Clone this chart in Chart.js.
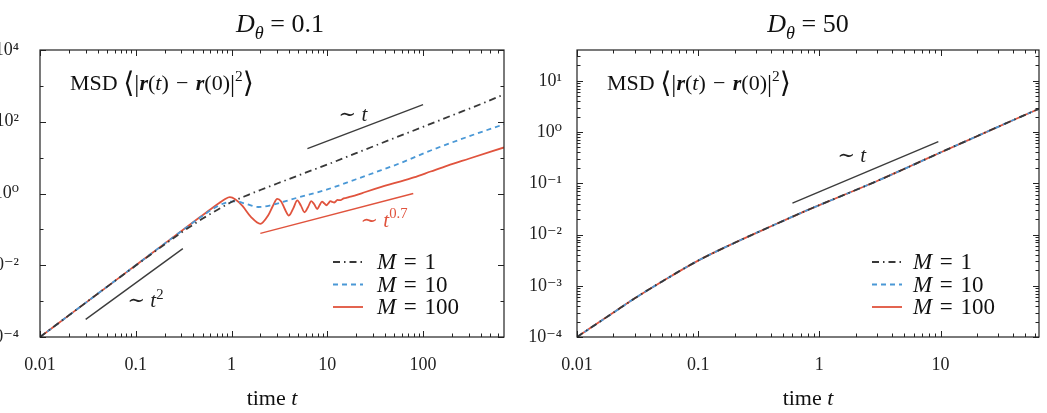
<!DOCTYPE html>
<html>
<head>
<meta charset="utf-8">
<script src="https://cdn.jsdelivr.net/npm/chart.js@4.4.1/dist/chart.umd.min.js"></script>
<style>
  body { margin: 0; background: #fff; width: 1047px; height: 413px; overflow: hidden; position: relative; }
  #left { position: absolute; left: -40px; top: 0; }
  #right { position: absolute; left: 520px; top: 0; }
</style>
</head>
<body>
<canvas id="left" width="560" height="413"></canvas>
<canvas id="right" width="527" height="413"></canvas>
<script>
// ---- data ----
// left panel, D_theta = 0.1
const leftM1T = [0.01, 0.02, 0.05, 0.1, 0.2, 0.3, 0.5, 0.7, 1, 1.5, 2, 3, 5, 7, 10, 20, 50, 100, 200, 400, 700]
const leftM1Y = [1e-4, 4e-4, 2.5e-3, 0.0098, 0.038, 0.082, 0.2, 0.34, 0.58, 0.92, 1.25, 1.9, 3.2, 4.5, 6.4, 13.3, 35, 72, 150, 310, 580]

const leftM10T = [0.01, 0.02, 0.05, 0.1, 0.2, 0.5, 0.7, 0.9, 1.1, 1.4, 1.9, 2.5, 3.2, 5, 10, 20, 36, 60, 120, 300, 700]
const leftM10Y = [1e-4, 4e-4, 2.5e-3, 0.01, 0.04, 0.24, 0.43, 0.57, 0.6, 0.52, 0.42, 0.46, 0.55, 0.78, 1.3, 2.5, 4.4, 7.3, 15.8, 39, 85]

const leftM100T = [0.01, 0.02, 0.05, 0.1, 0.2, 0.4, 0.6, 0.75, 0.85, 0.96, 1.1, 1.3, 1.6, 2.0, 2.4,
  2.7, 3.0, 3.3, 3.6, 3.97, 4.4, 4.86, 5.3, 5.79, 6.3, 6.8, 7.3, 7.85, 8.3, 8.8, 9.3, 9.8, 10.3, 10.8, 11.3,
  11.8, 12.3, 12.8, 13.3, 13.8, 14.3, 14.8, 15.8, 17, 20, 25, 36, 50, 80, 120, 180, 300, 700]
const leftM100Y = [1e-4, 4e-4, 2.5e-3, 0.01, 0.04, 0.16, 0.36, 0.55, 0.69, 0.79, 0.68, 0.45, 0.22, 0.143, 0.24,
  0.45, 0.71, 0.6, 0.37, 0.244, 0.38, 0.64, 0.46, 0.30, 0.42, 0.61, 0.5, 0.37, 0.47, 0.59, 0.53, 0.47, 0.54, 0.61, 0.58,
  0.56, 0.61, 0.66, 0.655, 0.65, 0.69, 0.73, 0.75, 0.8, 0.9, 1.1, 1.5, 1.94, 2.8, 4.1, 6.0, 9.3, 19.2]

// guide lines (scaling laws)
const leftLinT = [6.2, 100],  leftLinY = [17.9, 300]      // ~ t
const leftSubT = [2.0, 79],   leftSubY = [0.077, 1.0]     // ~ t^0.7
const leftBalT = [0.03, 0.31], leftBalY = [3.1e-4, 0.029] // ~ t^2

// right panel, D_theta = 50 (all three M curves lie on top of each other)
const rightT = [0.01, 0.02, 0.03, 0.05, 0.1, 0.2, 0.4, 0.7, 1, 2, 3, 5, 10, 20, 40, 65]
const rightM1Y = [1.0e-4, 3.0e-4, 5.7e-4, 1.2e-3, 3.1e-3, 6.9e-3, 0.0145, 0.0262, 0.0375, 0.074, 0.111, 0.19, 0.4, 0.83, 1.72, 2.85]
const rightM10Y = [1.0e-4, 3.0e-4, 5.7e-4, 1.2e-3, 3.1e-3, 6.9e-3, 0.0145, 0.0262, 0.0375, 0.074, 0.111, 0.19, 0.4, 0.83, 1.72, 2.85]
const rightM100Y = [1.0e-4, 3.0e-4, 5.7e-4, 1.2e-3, 3.1e-3, 6.9e-3, 0.0145, 0.0262, 0.0375, 0.074, 0.111, 0.19, 0.4, 0.83, 1.72, 2.85]
const rightLinT = [0.6, 9.6], rightLinY = [0.041, 0.65]   // ~ t

// ticks
const leftXTicks = [0.01, 0.1, 1, 10, 100]
const leftXTickLabels = ['0.01', '0.1', '1', '10', '100']
const leftYTicks = [1e-4, 1e-2, 1, 1e2, 1e4]
const leftYTickLabels = ['10⁻⁴', '10⁻²', '10⁰', '10²', '10⁴']
const rightXTicks = [0.01, 0.1, 1, 10]
const rightXTickLabels = ['0.01', '0.1', '1', '10']
const rightYTicks = [1e-4, 1e-3, 1e-2, 1e-1, 1, 10]
const rightYTickLabels = ['10⁻⁴', '10⁻³', '10⁻²', '10⁻¹', '10⁰', '10¹']

const seriesLabels = ['M = 1', 'M = 10', 'M = 100']

// ---- styling ----
const serif = '"Liberation Serif", "DejaVu Serif", serif'
Chart.defaults.font.family = serif
Chart.defaults.font.size = 18
Chart.defaults.color = '#222'

const BLACK = '#383838', BLUE = '#4a98d6', RED = '#e0533d', GUIDE = '#3c3c3c'
const SP = '\u2004'  // slightly wider space, math-like spacing round "="

const pts = (xs, ys) => xs.map((x, i) => ({x: x, y: ys[i]}))

function series(label, xs, ys, color, dash){
    return {label: label, data: pts(xs, ys), borderColor: color, borderWidth: 1.8, borderDash: dash,
        pointRadius: 0, fill: false, cubicInterpolationMode: 'monotone', isSeries: true}
}
function guide(xs, ys, color){
    return {data: pts(xs, ys), borderColor: color, borderWidth: 1.4, pointRadius: 0, fill: false}
}

// minor tick values: m * 10^k inside [min, max]
function minorTicks(min, max){
    const out = []
    for (let k = Math.floor(Math.log10(min)); k <= Math.ceil(Math.log10(max)); k++)
        for (let m = 2; m <= 9; m++){
            const v = m * Math.pow(10, k)
            if (v > min && v < max) out.push(v)
        }
    return out
}

// small rich-text helper (italics, sub/superscripts)
function rich(ctx, x, y, parts, size, align, color){
    const fontOf = p => {
        const s = size * (p.s || 1) * (p.sup || p.sub ? 0.7 : 1)
        return (p.st ? p.st + ' ' : '') + s + 'px ' + serif
    }
    const ws = []
    let w = 0
    parts.forEach(p => { ctx.font = fontOf(p); const m = ctx.measureText(p.t).width; ws.push(m); w += m })
    let cx = align === 'center' ? x - w / 2 : x
    ctx.fillStyle = color || '#111'
    ctx.textAlign = 'left'
    ctx.textBaseline = 'alphabetic'
    parts.forEach((p, i) => {
        ctx.font = fontOf(p)
        const dy = p.sup ? -size * 0.42 : p.sub ? size * 0.25 : (p.dy || 0)
        ctx.fillText(p.t, cx, y + dy)
        cx += ws[i]
    })
}
const I = t => ({t: t, st: 'italic'})
const N = t => ({t: t})

function msdParts(){
    return [N('MSD '), {t: '⟨', s: 1.3, dy: 2}, {t: '|', s: 1.15, dy: 2}, {t: 'r', st: 'bold italic'}, N('('), I('t'),
        N(')' + SP + '−' + SP), {t: 'r', st: 'bold italic'}, N('(0)'), {t: '|', s: 1.15, dy: 2}, {t: '2', sup: true}, {t: '⟩', s: 1.3, dy: 2}]
}

function decorPlugin(cfg){
    return {
        id: 'decor',
        afterDatasetsDraw(chart){
            const ctx = chart.ctx, ca = chart.chartArea
            const xs = chart.scales.x, ys = chart.scales.y
            ctx.save()
            // frame
            ctx.strokeStyle = '#222'
            ctx.lineWidth = 1.2
            ctx.setLineDash([])
            ctx.strokeRect(ca.left, ca.top, ca.right - ca.left, ca.bottom - ca.top)
            // inward ticks on all four sides
            ctx.lineWidth = 1
            const tick = (vals, len, horiz) => {
                vals.forEach(v => {
                    ctx.beginPath()
                    if (horiz){
                        const p = Math.round(xs.getPixelForValue(v)) + 0.5
                        ctx.moveTo(p, ca.bottom); ctx.lineTo(p, ca.bottom - len)
                        ctx.moveTo(p, ca.top); ctx.lineTo(p, ca.top + len)
                    } else {
                        const p = Math.round(ys.getPixelForValue(v)) + 0.5
                        ctx.moveTo(ca.left, p); ctx.lineTo(ca.left + len, p)
                        ctx.moveTo(ca.right, p); ctx.lineTo(ca.right - len, p)
                    }
                    ctx.stroke()
                })
            }
            tick(cfg.xMajor, 6, true)
            tick(cfg.xMinor, 3.5, true)
            tick(cfg.yMajor, 6, false)
            tick(cfg.yMinor, 3.5, false)

            // panel title and axis label
            const cx = (ca.left + ca.right) / 2
            rich(ctx, cx + cfg.titleDx, ca.top - 18, [I('D'), {t: 'θ', st: 'italic', sub: true}, N(' = ' + cfg.dTheta)], 26, 'center', '#111')
            rich(ctx, cx, ca.bottom + 68, [N('time '), I('t')], 22, 'center', '#111')

            // MSD label
            rich(ctx, ca.left + 30, ca.top + 40, msdParts(), 22, 'left', '#111')

            // guide-line labels, placed in data coordinates
            cfg.notes.forEach(n => {
                rich(ctx, xs.getPixelForValue(n.x), ys.getPixelForValue(n.y), n.parts, 21, 'left', n.color)
            })

            // legend
            let row = 0
            chart.data.datasets.forEach(ds => {
                if (!ds.isSeries) return
                const y = ca.top + cfg.legY + row * 22.5
                const x0 = ca.right + cfg.legX
                ctx.strokeStyle = ds.borderColor
                ctx.lineWidth = ds.borderWidth
                ctx.setLineDash(ds.borderDash || [])
                ctx.beginPath(); ctx.moveTo(x0, y); ctx.lineTo(x0 + 30, y); ctx.stroke()
                ctx.setLineDash([])
                const txt = ds.label.split(' ')
                rich(ctx, x0 + cfg.legGap, y + 7, [I(txt[0]), N(SP + '=' + SP + txt[2])], 23, 'left', '#111')
                row++
            })
            ctx.restore()
        }
    }
}

function makeChart(id, cfg){
    return new Chart(document.getElementById(id), {
        type: 'line',
        data: {datasets: cfg.datasets},
        options: {
            responsive: false,
            animation: false,
            layout: {padding: {top: 50, right: cfg.padRight, left: 0, bottom: 0}},
            plugins: {legend: {display: false}, tooltip: {enabled: false}, title: {display: false}},
            scales: {
                x: {
                    type: 'logarithmic', min: cfg.xMin, max: cfg.xMax,
                    afterBuildTicks: s => { s.ticks = cfg.xMajor.map(v => ({value: v})) },
                    afterFit: s => { s.height = 76 },
                    ticks: {callback: (v, i) => cfg.xLabels[i], padding: 17, maxRotation: 0, autoSkip: false, color: '#222'},
                    grid: {display: false, drawTicks: false},
                    border: {display: false}
                },
                y: {
                    type: 'logarithmic', min: cfg.yMin, max: cfg.yMax,
                    afterBuildTicks: s => { s.ticks = cfg.yLabelTicks.map(v => ({value: v})) },
                    afterFit: s => { s.width = cfg.yWidth },
                    ticks: {callback: (v, i) => cfg.yLabels[i], padding: cfg.yPad, autoSkip: false, color: '#222'},
                    grid: {display: false, drawTicks: false},
                    border: {display: false}
                }
            }
        },
        plugins: [decorPlugin(cfg)]
    })
}

// left: D_theta = 0.1
makeChart('left', {
    datasets: [
        series(seriesLabels[0], leftM1T, leftM1Y, BLACK, [7, 4, 1.5, 4]),
        series(seriesLabels[1], leftM10T, leftM10Y, BLUE, [5, 4]),
        series(seriesLabels[2], leftM100T, leftM100Y, RED, []),
        guide(leftLinT, leftLinY, GUIDE),
        guide(leftSubT, leftSubY, RED),
        guide(leftBalT, leftBalY, GUIDE)
    ],
    xMin: 0.01, xMax: 700, yMin: 1e-4, yMax: 1e4,
    xMajor: leftXTicks, xLabels: leftXTickLabels, xMinor: minorTicks(0.01, 700),
    yLabelTicks: leftYTicks, yLabels: leftYTickLabels,
    yMajor: leftYTicks, yMinor: [1e-3, 1e-1, 10, 1e3],
    yWidth: 80, yPad: 21, padRight: 16,
    dTheta: '0.1', titleDx: 8, legX: -171, legY: 212, legGap: 44,
    notes: [
        {x: 13.1, y: 105, parts: [N('∼ '), I('t')], color: '#222'},
        {x: 22.2, y: 0.12, parts: [N('∼ '), I('t'), {t: '0.7', sup: true}], color: RED},
        {x: 0.082, y: 6.7e-4, parts: [N('∼ '), I('t'), {t: '2', sup: true}], color: '#222'}
    ]
})

// right: D_theta = 50
makeChart('right', {
    datasets: [
        series(seriesLabels[0], rightT, rightM1Y, BLACK, [7, 4, 1.5, 4]),
        series(seriesLabels[1], rightT, rightM10Y, BLUE, [5, 4]),
        series(seriesLabels[2], rightT, rightM100Y, RED, []),
        guide(rightLinT, rightLinY, GUIDE)
    ],
    xMin: 0.01, xMax: 65, yMin: 1e-4, yMax: 40,
    xMajor: rightXTicks, xLabels: rightXTickLabels, xMinor: minorTicks(0.01, 65),
    yLabelTicks: rightYTicks, yLabels: rightYTickLabels,
    yMajor: rightYTicks, yMinor: minorTicks(1e-4, 40),
    yWidth: 57, yPad: 15, padRight: 8,
    dTheta: '50', titleDx: 0, legX: -167, legY: 212, legGap: 41,
    notes: [
        {x: 1.41, y: 0.255, parts: [N('∼ '), I('t')], color: '#222'}
    ]
})
</script>
</body>
</html>
